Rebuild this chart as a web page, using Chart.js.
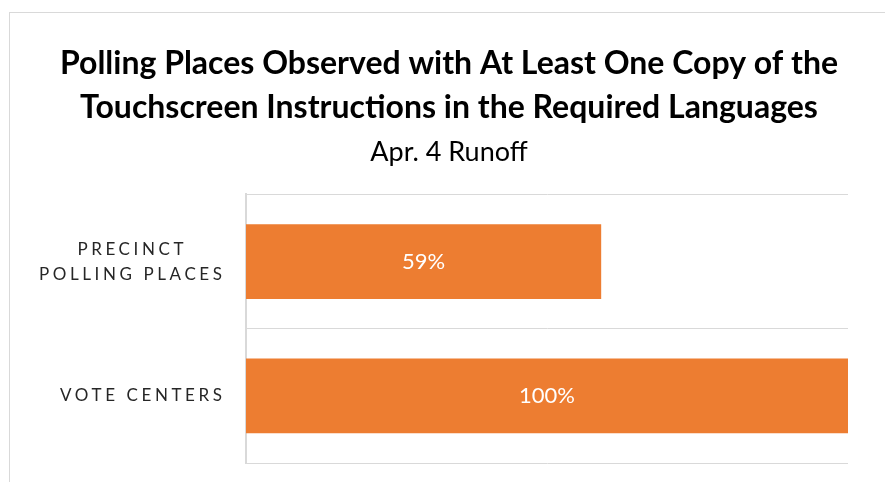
<!DOCTYPE html>
<html><head><meta charset="utf-8">
<script src="https://cdn.jsdelivr.net/npm/chart.js@4"></script>
<style>
html,body{margin:0;padding:0;background:#fff;}
#frame{position:absolute;left:9px;top:12px;width:900px;height:500px;border-left:1px solid #d9d9d9;border-top:1px solid #d9d9d9;}
#wrap{position:absolute;left:0;top:0;width:885px;height:482px;}
</style></head>
<body>
<div id="frame"></div>
<div id="wrap"><canvas id="c" width="885" height="482"></canvas></div>
<script>
const categories = [['PRECINCT', 'POLLING PLACES'], ['VOTE CENTERS']];
const values = [59, 100];
const valueLabels = ['59%', '100%'];
const titleLines = ['Polling Places Observed with At Least One Copy of the', 'Touchscreen Instructions in the Required Languages'];
const subtitleText = 'Apr. 4 Runoff';

const FONT = 'Lato, "Open Sans", sans-serif';

const labelPlugin = {
  id: 'labels',
  afterDatasetsDraw(chart) {
    const ctx = chart.ctx;
    const ys = chart.scales.y;
    ctx.save();
    ctx.font = '17px ' + FONT;
    ctx.fillStyle = '#262626';
    ctx.textBaseline = 'middle';
    ctx.textAlign = 'left';
    const sp = 3.6;
    ctx.letterSpacing = sp + 'px';
    const rightEdge = 222;
    chart.data.labels.forEach((lab, i) => {
      const lines = Array.isArray(lab) ? lab : [lab];
      const widths = lines.map(t => ctx.measureText(t).width - sp);
      const block = Math.max(...widths);
      const cy = ys.getPixelForValue(i);
      const lh = 25;
      lines.forEach((t, k) => {
        const y = cy + (k - (lines.length - 1) / 2) * lh;
        const x = rightEdge - block + (block - widths[k]) / 2;
        ctx.fillText(t, x, y);
      });
    });
    ctx.restore();
    ctx.save();
    ctx.font = '22px ' + FONT;
    ctx.fillStyle = '#ffffff';
    ctx.textAlign = 'center';
    ctx.textBaseline = 'middle';
    const meta = chart.getDatasetMeta(0);
    meta.data.forEach((bar, i) => {
      const cx = (bar.x + bar.base) / 2;
      ctx.fillText(valueLabels[i], cx, bar.y);
    });
    ctx.restore();
  }
};

new Chart(document.getElementById('c'), {
  type: 'bar',
  data: {
    labels: categories,
    datasets: [{
      data: values,
      backgroundColor: '#ED7D31',
      borderWidth: 0,
      barPercentage: 0.556,
      categoryPercentage: 1
    }]
  },
  options: {
    indexAxis: 'y',
    responsive: false,
    animation: false,
    devicePixelRatio: 1,
    layout: { padding: { left: 50, right: 37, top: 0, bottom: 19 } },
    plugins: {
      legend: { display: false },
      tooltip: { enabled: false },
      title: {
        display: true,
        text: titleLines,
        color: '#000',
        font: { family: FONT, size: 32, weight: 'bold', lineHeight: 1.375 },
        padding: { top: 42, bottom: 6 },
        align: 'center'
      },
      subtitle: {
        display: true,
        text: subtitleText,
        color: '#000',
        font: { family: FONT, size: 27, weight: 'normal', lineHeight: 1.2 },
        padding: { top: 0, bottom: 26 }
      }
    },
    scales: {
      x: { display: false, min: 0, max: 100 },
      y: {
        display: true,
        grid: { display: true, color: '#d9d9d9', lineWidth: 1, drawTicks: false, offset: true },
        border: { display: true, color: '#d9d9d9', width: 2 },
        ticks: { display: false },
        afterFit(scale) { scale.width = 196; }
      }
    }
  },
  plugins: [labelPlugin]
});
</script>
</body></html>
